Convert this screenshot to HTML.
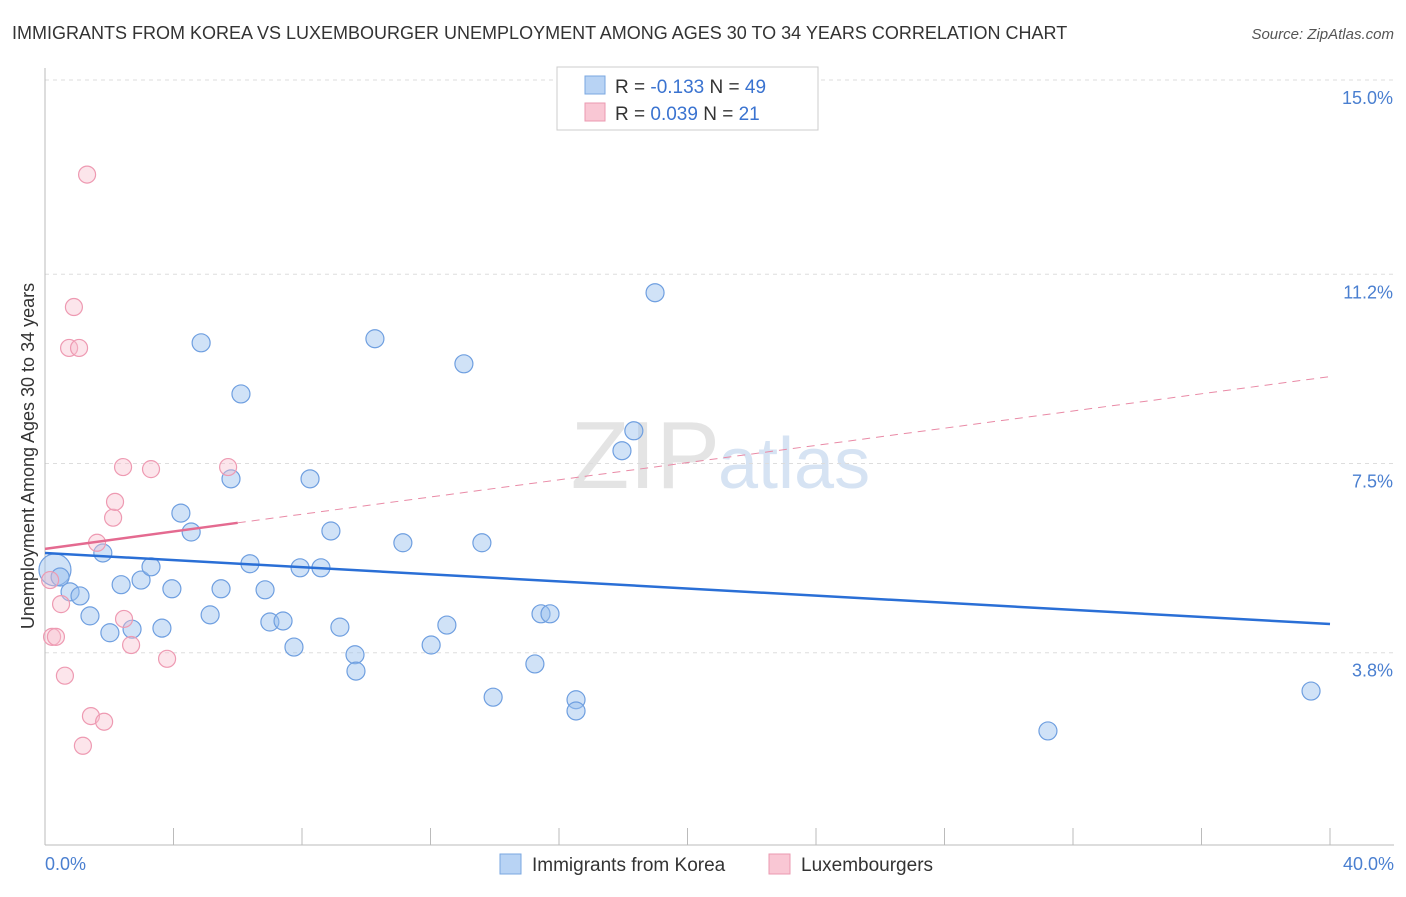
<!DOCTYPE html>
<html><head><meta charset="utf-8"><style>
body{margin:0;background:#fff;font-family:"Liberation Sans",sans-serif}
svg text{font-family:"Liberation Sans",sans-serif}
</style></head><body>
<svg id="c" width="1406" height="892">
<text x="12" y="39" font-size="18" fill="#333">IMMIGRANTS FROM KOREA VS LUXEMBOURGER UNEMPLOYMENT AMONG AGES 30 TO 34 YEARS CORRELATION CHART</text>
<text x="1394" y="39" font-size="15" fill="#555" text-anchor="end" font-style="italic">Source: ZipAtlas.com</text>
<text x="720" y="488" font-size="96" fill="#e4e4e4" text-anchor="end" font-family="Liberation Serif">ZIP</text>
<text x="718" y="488" font-size="72" fill="#d6e3f3">atlas</text>
<g id="grid"></g><g id="axes"></g><g id="marks"></g>
<text transform="translate(34,456) rotate(-90)" font-size="18" fill="#333" text-anchor="middle">Unemployment Among Ages 30 to 34 years</text>
<text x="45" y="870" font-size="18" fill="#4a7fd0">0.0%</text>
<text x="1394" y="870" font-size="18" fill="#4a7fd0" text-anchor="end">40.0%</text>
<g>
<rect x="557" y="67" width="261" height="63" fill="#fff" stroke="#ccc"/>
<rect x="585" y="76" width="20" height="18" fill="#b8d3f4" stroke="#7aa7e0"/>
<rect x="585" y="103" width="20" height="18" fill="#f9c7d4" stroke="#eb9ab0"/>
<text x="615" y="93" font-size="19" fill="#333">R = <tspan fill="#3a73d0">-0.133</tspan>   N = <tspan fill="#3a73d0">49</tspan></text>
<text x="615" y="120" font-size="19" fill="#333">R =  <tspan fill="#3a73d0">0.039</tspan>   N =  <tspan fill="#3a73d0">21</tspan></text>
</g>
<g>
<rect x="500" y="854" width="21" height="20" fill="#b8d3f4" stroke="#7aa7e0"/>
<text x="532" y="871" font-size="19" fill="#333">Immigrants from Korea</text>
<rect x="769" y="854" width="21" height="20" fill="#f9c7d4" stroke="#eb9ab0"/>
<text x="801" y="871" font-size="19" fill="#333">Luxembourgers</text>
</g>
</svg>
<script>
const yTicks=[15.0,11.2,7.5,3.8];
const yTickLabels=["15.0%","11.2%","7.5%","3.8%"];
const xTicks=[0,4,8,12,16,20,24,28,32,36,40];
const koreaX=[0.31,0.47,0.78,1.09,1.40,1.80,2.02,2.37,2.71,2.99,3.30,3.64,3.95,4.23,4.55,4.86,5.14,5.48,5.79,6.10,6.38,6.85,7.00,7.41,7.75,7.94,8.25,8.59,8.90,9.18,9.65,9.68,10.27,11.14,12.02,12.51,13.04,13.60,13.95,15.25,15.44,15.72,16.53,16.53,17.96,18.33,18.99,31.22,39.41];
const koreaY=[5.42,5.28,4.99,4.91,4.52,5.75,4.19,5.13,4.26,5.22,5.48,4.28,5.05,6.53,6.16,9.86,4.54,5.05,7.20,8.86,5.54,5.03,4.40,4.42,3.91,5.46,7.20,5.46,6.18,4.30,3.76,3.44,9.94,5.95,3.95,4.34,9.45,5.95,2.93,3.58,4.56,4.56,2.88,2.66,7.75,8.14,10.84,2.27,3.05];
const luxX=[0.16,0.22,0.34,0.50,0.62,0.75,0.90,1.06,1.18,1.31,1.43,1.62,1.84,2.12,2.18,2.43,2.46,2.68,3.30,3.80,5.70];
const luxY=[5.22,4.11,4.11,4.75,3.35,9.76,10.56,9.76,1.98,13.15,2.56,5.95,2.45,6.44,6.75,7.43,4.46,3.95,7.39,3.68,7.43];
const koreaTrend=[5.75,4.36];
const luxTrend=[5.83,6.34,9.20];
const luxTrendX=[0,6,40];
const NS="http://www.w3.org/2000/svg";
const X=v=>45+v/40*1285, Y=v=>847-v/15*767;
function mk(p,t,a){const e=document.createElementNS(NS,t);for(const k in a)e.setAttribute(k,a[k]);document.getElementById(p).appendChild(e);return e;}
yTicks.forEach((t,i)=>{
 let l=mk('grid','line',{x1:45,x2:1394,y1:Y(t),y2:Y(t),stroke:'#ddd','stroke-dasharray':'4,4'});
 
 
 let tx=mk('grid','text',{x:1393,y:Y(t)+24,'font-size':18,fill:'#4a7fd0','text-anchor':'end'});
 tx.textContent=yTickLabels[i];
 
 
});
let ax=mk('axes','line',{x1:45,x2:45,y1:68,y2:845,stroke:'#bbb'});


let bx=mk('axes','line',{x1:45,x2:1394,y1:845,y2:845,stroke:'#bbb'});


xTicks.forEach(t=>{let l=mk('axes','line',{x1:X(t),x2:X(t),y1:828,y2:845,stroke:'#bbb'});
 
 });
koreaX.forEach((v,i)=>{let c=mk('marks','circle',{cx:X(v),cy:Y(koreaY[i]),r:i==0?16:9,fill:'rgba(150,190,238,0.45)',stroke:'#6f9fe0','stroke-width':1.2});
 
 });
luxX.forEach((v,i)=>{let c=mk('marks','circle',{cx:X(v),cy:Y(luxY[i]),r:8.5,fill:'rgba(248,190,205,0.4)',stroke:'#ee9ab2','stroke-width':1.2});
 
 });
let kt=mk('marks','line',{x1:X(0),y1:Y(koreaTrend[0]),x2:X(40),y2:Y(koreaTrend[1]),stroke:'#2a6fd6','stroke-width':2.5});


let lt=mk('marks','line',{x1:X(luxTrendX[0]),y1:Y(luxTrend[0]),x2:X(luxTrendX[1]),y2:Y(luxTrend[1]),stroke:'#e46a90','stroke-width':2.5});


let ld=mk('marks','line',{x1:X(luxTrendX[1]),y1:Y(luxTrend[1]),x2:X(luxTrendX[2]),y2:Y(luxTrend[2]),stroke:'#e98aa6','stroke-width':1,'stroke-dasharray':'8,6'});


</script>
</body></html>
